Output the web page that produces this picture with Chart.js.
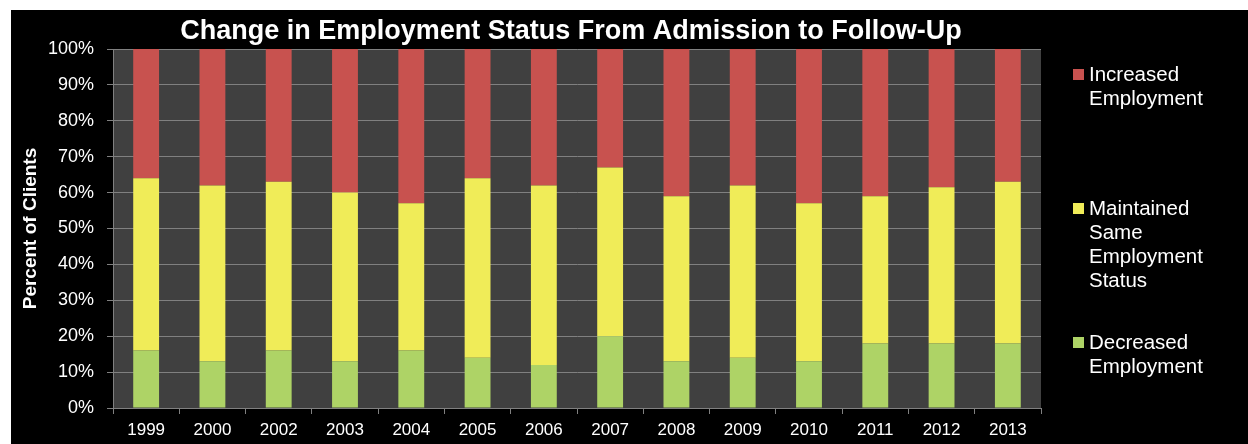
<!DOCTYPE html>
<html>
<head>
<meta charset="utf-8">
<script src="https://cdn.jsdelivr.net/npm/chart.js@4/dist/chart.umd.min.js"></script>
<style>
  body { margin: 0; background: #fff; }
  #wrap { position: absolute; left: 11px; top: 10px; width: 1237px; height: 434px; background: #000; }
</style>
</head>
<body>
<div id="wrap"><canvas id="chart" width="1237" height="434"></canvas></div>
<script>
const years = ['1999', '2000', '2002', '2003', '2004', '2005', '2006', '2007', '2008', '2009', '2010', '2011', '2012', '2013'];
const decreased = [16, 13, 16, 13, 16, 14, 12, 20, 13, 14, 13, 18, 18, 18];
const maintained = [48, 49, 47, 47, 41, 50, 50, 47, 46, 48, 44, 41, 43.5, 45];
const increased = [36, 38, 37, 40, 43, 36, 38, 33, 41, 38, 43, 41, 38.5, 37];
const yTicks = [0, 10, 20, 30, 40, 50, 60, 70, 80, 90, 100];
const chartTitle = 'Change in Employment Status From Admission to Follow-Up';

const legendLines = {
    'Increased Employment': ['Increased', 'Employment'],
    'Maintained Same Employment Status': ['Maintained', 'Same', 'Employment', 'Status'],
    'Decreased Employment': ['Decreased', 'Employment']
};

const FONT = '"Liberation Sans", Arial, sans-serif';

// dark plot area behind grid and bars
const plotBg = {
    id: 'plotBg',
    beforeDraw(chart) {
        const { ctx, chartArea: a } = chart;
        ctx.save();
        ctx.fillStyle = '#404040';
        ctx.fillRect(a.left, a.top, a.right - a.left, a.bottom - a.top);
        ctx.restore();
    }
};

// title centred over the plot, not the whole canvas
const topTitle = {
    id: 'topTitle',
    afterDraw(chart) {
        const { ctx, chartArea: a } = chart;
        ctx.save();
        ctx.font = 'bold 27px ' + FONT;
        ctx.fillStyle = '#fff';
        ctx.textAlign = 'center';
        ctx.textBaseline = 'alphabetic';
        ctx.fillText(chartTitle, (a.left + a.right) / 2 - 6, 29);
        ctx.restore();
    }
};

// wrapped legend on the right
const sideLegend = {
    id: 'sideLegend',
    afterDraw(chart) {
        const ctx = chart.ctx;
        const baselines = [71, 205, 339];
        const items = chart.data.datasets.slice().reverse();
        ctx.save();
        ctx.font = '20.5px ' + FONT;
        ctx.textBaseline = 'alphabetic';
        items.forEach((ds, i) => {
            const y = baselines[i];
            ctx.fillStyle = ds.backgroundColor;
            ctx.fillRect(1062, y - 12, 11, 11);
            ctx.fillStyle = '#fff';
            legendLines[ds.label].forEach((t, j) => ctx.fillText(t, 1078, y + j * 24));
        });
        ctx.restore();
    }
};

new Chart(document.getElementById('chart'), {
    type: 'bar',
    data: {
        labels: years,
        datasets: [
            { label: 'Decreased Employment', data: decreased, backgroundColor: '#AED366' },
            { label: 'Maintained Same Employment Status', data: maintained, backgroundColor: '#F0EC58' },
            { label: 'Increased Employment', data: increased, backgroundColor: '#C8524F' }
        ]
    },
    options: {
        responsive: false,
        animation: false,
        layout: { padding: { right: 207, top: 39 } },
        datasets: { bar: { barPercentage: 0.39, categoryPercentage: 1, borderWidth: 0 } },
        plugins: {
            legend: { display: false },
            tooltip: { enabled: false },
            title: { display: false }
        },
        scales: {
            x: {
                stacked: true,
                grid: { offset: true, drawOnChartArea: false, drawTicks: true, tickLength: 6, color: '#808080' },
                border: { color: '#808080' },
                ticks: { color: '#fff', padding: 6, font: { family: FONT, size: 17 } },
                afterFit(s) { s.height = 36; }
            },
            y: {
                stacked: true,
                min: 0,
                max: 100,
                afterBuildTicks(s) { s.ticks = yTicks.map(v => ({ value: v })); },
                grid: { color: '#808080', tickLength: 6 },
                border: { color: '#808080' },
                ticks: {
                    color: '#fff',
                    padding: 13,
                    font: { family: FONT, size: 18 },
                    callback: v => v + '%'
                },
                title: {
                    display: true,
                    text: 'Percent of Clients',
                    color: '#fff',
                    padding: { top: 8, bottom: 0 },
                    font: { family: FONT, size: 19, weight: 'bold' }
                },
                afterFit(s) { s.width = 102; }
            }
        }
    },
    plugins: [plotBg, topTitle, sideLegend]
});
</script>
</body>
</html>
